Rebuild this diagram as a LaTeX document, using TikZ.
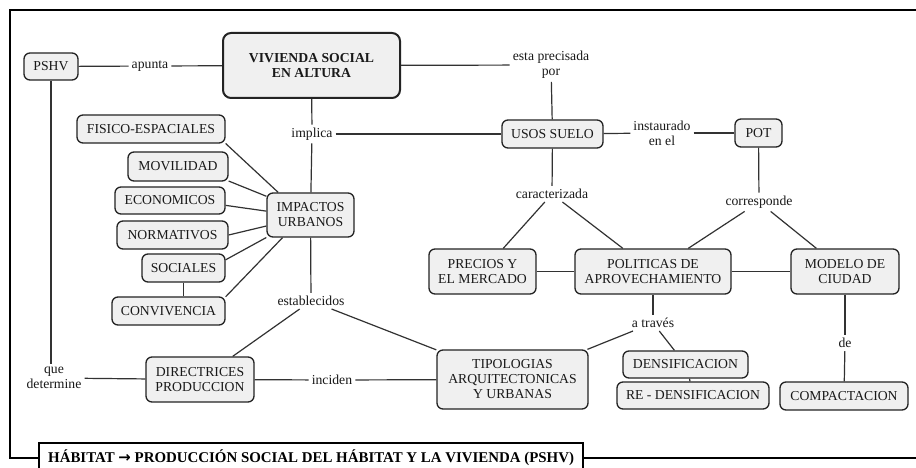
\documentclass[tikz,border=0pt]{standalone}
\usepackage{fontspec}
\setmainfont{Liberation Serif}
\newfontfamily\arrowfont{DejaVu Sans}
\definecolor{boxfill}{RGB}{240,240,240}
\definecolor{boxline}{RGB}{35,35,35}
\definecolor{connc}{RGB}{50,50,50}
\definecolor{txt}{RGB}{25,25,25}
\tikzset{
  box/.style={draw=boxline, fill=boxfill, rounded corners=6pt, line width=1.3pt,
    inner sep=0pt, align=center, text=txt, font=\fontsize{13.7}{15}\selectfont},
  lbl/.style={inner sep=3pt, align=center, text=txt, font=\fontsize{13.7}{15}\selectfont},
  conn/.style={draw=connc, line width=1.2pt},
  frame/.style={line width=2pt, draw=black},
}
\begin{document}
\begin{tikzpicture}[x=1pt,y=-1pt]
\useasboundingbox (0,0) rectangle (916,468);
\fill[white] (0,0) rectangle (916,468);

% boxes
\node[box, minimum width=54pt, minimum height=27pt] (pshv) at (51,66.5) {PSHV};
\node[box, line width=2pt, rounded corners=8pt, minimum width=177pt, minimum height=65pt,
  font=\fontsize{13.7}{15}\bfseries\selectfont] (viv) at (311.5,65.5) {VIVIENDA SOCIAL\\EN ALTURA};
\node[box, minimum width=148pt, minimum height=28pt] (fis) at (151,129) {FISICO-ESPACIALES};
\node[box, minimum width=100pt, minimum height=29pt] (mov) at (178,166.5) {MOVILIDAD};
\node[box, minimum width=110pt, minimum height=27pt] (eco) at (170,200.5) {ECONOMICOS};
\node[box, minimum width=111pt, minimum height=28pt] (nor) at (172.5,235) {NORMATIVOS};
\node[box, minimum width=83pt, minimum height=28pt] (soc) at (183.5,268) {SOCIALES};
\node[box, minimum width=113pt, minimum height=28pt] (con) at (168.5,311) {CONVIVENCIA};
\node[box, minimum width=87pt, minimum height=44pt] (imp) at (310.5,215) {IMPACTOS\\URBANOS};
\node[box, minimum width=101pt, minimum height=28pt] (usos) at (552.5,134) {USOS SUELO};
\node[box, minimum width=47pt, minimum height=28pt] (pot) at (758.5,133) {POT};
\node[box, minimum width=107pt, minimum height=45pt] (pre) at (482.5,271.5) {PRECIOS Y\\EL MERCADO};
\node[box, minimum width=156pt, minimum height=45pt] (pol) at (653,271.5) {POLITICAS DE\\APROVECHAMIENTO};
\node[box, minimum width=108pt, minimum height=45pt] (mod) at (845,271.5) {MODELO DE\\CIUDAD};
\node[box, minimum width=108pt, minimum height=45pt] (dir) at (200,379.5) {DIRECTRICES\\PRODUCCION};
\node[box, minimum width=151pt, minimum height=59pt] (tip) at (512.5,379.5) {TIPOLOGIAS\\ARQUITECTONICAS\\Y URBANAS};
\node[box, minimum width=125pt, minimum height=27pt] (den) at (685.5,364.5) {DENSIFICACION};
\node[box, minimum width=152pt, minimum height=27pt] (reden) at (693,395.5) {RE - DENSIFICACION};
\node[box, minimum width=128pt, minimum height=28pt] (com) at (844,396) {COMPACTACION};

% labels
\node[lbl] (apunta) at (150,66) {apunta};
\node[lbl] (esta) at (551,65) {esta precisada\\por};
\node[lbl] (implica) at (312,134) {implica};
\node[lbl] (instaurado) at (662,133) {instaurado\\en el};
\node[lbl] (caract) at (552,194) {caracterizada};
\node[lbl] (corresp) at (759,202) {corresponde};
\node[lbl] (estab) at (311,301) {establecidos};
\node[lbl] (atraves) at (653,323) {a través};
\node[lbl] (de) at (845,343) {de};
\node[lbl] (que) at (54,378) {que\\determine};
\node[lbl] (inciden) at (332,380) {inciden};

% title
\node[anchor=base west, inner sep=0pt, text=black,
  font=\fontsize{14.9}{16}\bfseries\selectfont] (title) at (48,462)
  {HÁBITAT {\arrowfont\bfseries →} PRODUCCIÓN SOCIAL DEL HÁBITAT Y LA VIVIENDA (PSHV)};

% frame
\draw[frame] (39,458) -- (10,458) -- (10,10) -- (917,10);
\draw[frame] (583,458) -- (917,458);
\draw[frame] (39,472) -- (39,443) -- (583,443) -- (583,472);

% connectors
\draw[conn] (pshv) -- (apunta);
\draw[conn] (apunta) -- (viv);
\draw[conn] (viv) -- (esta);
\draw[conn] (esta) -- (usos);
\draw[conn] (viv) -- (implica);
\draw[conn] (implica) -- (imp);
\draw[conn] (implica) -- (usos);
\draw[conn] (usos) -- (instaurado);
\draw[conn] (instaurado) -- (pot);
\draw[conn] (usos) -- (caract);
\draw[conn] (caract) -- (pre);
\draw[conn] (caract) -- (pol);
\draw[conn] (pot) -- (corresp);
\draw[conn] (corresp) -- (pol);
\draw[conn] (corresp) -- (mod);
\draw[conn] (pre) -- (pol);
\draw[conn] (pol) -- (mod);
\draw[conn] (pol) -- (atraves);
\draw[conn] (atraves) -- (tip);
\draw[conn] (atraves) -- (den);
\draw[conn] ([xshift=4pt]den.south) -- ([xshift=-3pt]reden.north);
\draw[conn] (mod) -- (de);
\draw[conn] (de) -- (com);
\draw[conn] (fis.-11.5) -- (imp.145);
\draw[conn] (mov.-16) -- (imp.157.5);
\draw[conn] (eco.-5.7) -- (imp.175);
\draw[conn] (nor.east) -- (imp.194);
\draw[conn] (soc.11) -- (imp.207);
\draw[conn] (con.14) -- (imp.219);
\draw[conn] (soc.south) -- (soc.south |- con.north);
\draw[conn] (imp) -- (estab);
\draw[conn] (estab) -- (dir);
\draw[conn] (estab) -- (tip);
\draw[conn] (pshv.south) -- (pshv.south |- que.north);
\draw[conn] (que) -- (dir);
\draw[conn] (dir) -- (inciden);
\draw[conn] (inciden) -- (tip);
\end{tikzpicture}
\end{document}
